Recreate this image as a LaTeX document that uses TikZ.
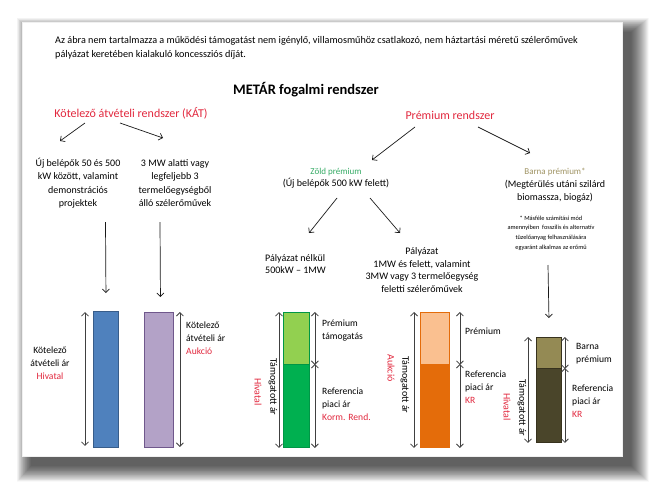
\documentclass[tikz,border=0pt]{standalone}
\usepackage{fontspec}
\setmainfont{Carlito}
\usetikzlibrary{arrows.meta}
\definecolor{kred}{RGB}{226,40,62}
\definecolor{zgreen}{RGB}{52,170,100}
\definecolor{btan}{RGB}{160,148,100}
\definecolor{bblue}{RGB}{79,129,189}
\definecolor{bblueb}{RGB}{56,93,138}
\definecolor{bpurple}{RGB}{179,162,199}
\definecolor{bpurpleb}{RGB}{112,88,140}
\definecolor{glight}{RGB}{146,208,80}
\definecolor{gdark}{RGB}{0,176,80}
\definecolor{gbord}{RGB}{0,150,70}
\definecolor{olight}{RGB}{250,192,144}
\definecolor{odark}{RGB}{228,108,10}
\definecolor{blight}{RGB}{148,138,84}
\definecolor{bdark}{RGB}{74,69,42}
\definecolor{bbord}{RGB}{55,50,30}
\begin{document}
\begin{tikzpicture}[x=1pt,y=-1pt,
  txt/.style={inner sep=0pt, align=center, font=\fontsize{10}{13.5}\selectfont},
  lbl/.style={inner sep=0pt, align=left, font=\fontsize{9.6}{13}\selectfont},
  arr/.style={draw=black!90, line width=0.7pt, -{Straight Barb[length=3.5pt,width=7pt]}},
  dbl/.style={draw=black!75, line width=0.8pt, {Straight Barb[length=3.5pt,width=7pt]}-{Straight Barb[length=3.5pt,width=7pt]}},
  bar/.style={draw, line width=0.9pt, inner sep=0pt, anchor=north west},
  rot/.style={inner sep=0pt, rotate=-90, font=\fontsize{10}{12}\selectfont}]
\useasboundingbox (0,0) rectangle (652,482);
\fill[white] (0,0) rectangle (652,482);
% shadow of the slide
\foreach \i in {0,...,35}{
  \fill[black, opacity=0.023] (31-0.4*\i, 32-0.4*\i) rectangle (631+0.5*\i, 466+0.45*\i);
}
% slide
\node[fill=white, draw=black!6, inner sep=0pt, anchor=north west, minimum width=600pt, minimum height=434pt] (slide) at (22,22) {};

% top note
\node[inner sep=0pt, anchor=west, align=left, font=\fontsize{10.2}{14}\selectfont] (note) at (55,48)
  {Az ábra nem tartalmazza a működési támogatást nem igénylő, villamosműhöz csatlakozó, nem háztartási méretű szélerőművek\\pályázat keretében kialakuló koncessziós díját.};

\node[inner sep=0pt, font=\fontsize{14.5}{16}\selectfont\bfseries] (title) at (306,90) {METÁR fogalmi rendszer};

% KAT branch
\node[inner sep=0pt, font=\fontsize{12}{14}\selectfont, text=kred] (kat) at (131,113) {Kötelező átvételi rendszer (KÁT)};
\node[txt] (uj) at (78,183) {Új belépők 50 és 500\\kW között, valamint\\demonstrációs\\projektek};
\node[txt] (mw3) at (175,183) {3 MW alatti vagy\\legfeljebb 3\\termelőegységből\\álló szélerőművek};
\draw[arr] ([shift={(-46,10)}]kat.center) -- ([shift={(-18,-42)}]uj.center);
\draw[arr] ([shift={(-11,10)}]kat.center) -- ([shift={(-12,-45)}]mw3.center);

% Premium branch
\node[inner sep=0pt, font=\fontsize{12}{14}\selectfont, text=kred] (prem) at (450,115) {Prémium rendszer};
\node[inner sep=0pt, align=center, font=\fontsize{10}{11.5}\selectfont] (zold) at (336,178)
  {\fontsize{9}{11}\selectfont\textcolor{zgreen}{Zöld prémium}\\(Új belépők 500 kW felett)};
\node[inner sep=0pt, align=center, font=\fontsize{10}{13}\selectfont] (barna) at (555,185)
  {\fontsize{9}{11}\selectfont\textcolor{btan}{Barna prémium*}\\(Megtérülés utáni szilárd\\biomassza, biogáz)};
\node[inner sep=0pt, align=center, font=\fontsize{6.3}{9.7}\selectfont] (foot) at (551,233)
  {* Másféle számítási mód\\amennyiben\ \ fosszilis és alternatív\\tüzelőanyag felhasználására\\egyaránt alkalmas az erőmű};
\draw[arr] ([shift={(-35,12)}]prem.center) -- ([shift={(36,-18)}]zold.center);
\draw[arr] ([shift={(28,12)}]prem.center) -- ([shift={(-25,-32)}]barna.center);

\node[inner sep=0pt, anchor=west, align=left, font=\fontsize{10}{12}\selectfont] (pn) at (265,264)
  {Pályázat nélkül\\500kW -- 1MW};
\node[txt, font=\fontsize{10}{12.5}\selectfont] (pz) at (422,270)
  {Pályázat\\1MW és felett, valamint\\3MW vagy 3 termelőegység\\feletti szélerőművek};
\draw[arr] ([shift={(1,20)}]zold.center) -- ([shift={(44,-31)}]pn.west);
\draw[arr] ([shift={(34,20)}]zold.center) -- ([shift={(-22,-37)}]pz.center);

% bars
\node[bar, draw=bblueb, fill=bblue, minimum width=25pt, minimum height=136pt] (blue) at (93,311) {};
\node[bar, draw=bpurpleb, fill=bpurple, minimum width=29pt, minimum height=135pt] (purple) at (144,312) {};
\draw[arr] ([shift={(27.5,39)}]uj.center) -- ([shift={(0,-18)}]blue.north);
\draw[arr] ([shift={(-15,39)}]mw3.center) -- ([shift={(1.5,-15)}]purple.north);
\draw[dbl] ([shift={(-8,1)}]blue.north west) -- ([shift={(-8,-2)}]blue.south west);
\draw[dbl] ([shift={(6,0)}]purple.north east) -- ([shift={(6,-1)}]purple.south east);
\node[lbl, align=center] (l1) at (50,363) {Kötelező\\átvételi ár\\\textcolor{kred}{Hivatal}};
\node[lbl, anchor=west] (l2) at (186,338) {Kötelező\\átvételi ár\\\textcolor{kred}{Aukció}};

% green
\node[bar, draw=gbord, fill=glight, minimum width=26pt, minimum height=52pt] (gtop) at (283,312) {};
\node[bar, draw=gbord, fill=gdark, minimum width=26pt, minimum height=83pt] (gbot) at (283,364) {};
\draw[dbl] ([shift={(-4,0)}]gtop.north west) -- ([shift={(-4,0)}]gbot.south west);
\draw[dbl] ([shift={(5,0)}]gtop.north east) -- ([shift={(5,0)}]gtop.south east);
\draw[dbl] ([shift={(5,0)}]gbot.north east) -- ([shift={(5,0)}]gbot.south east);
\node[rot] (gr1) at (273,387) {Támogatott ár};
\node[rot, text=kred] (gr2) at (258,392) {Hivatal};
\node[lbl, anchor=west] (g1) at (322,331) {Prémium\\támogatás};
\node[lbl, anchor=west] (g2) at (322,404) {Referencia\\piaci ár\\\textcolor{kred}{Korm. Rend.}};

% orange
\node[bar, draw=odark, fill=olight, minimum width=29pt, minimum height=52pt] (otop) at (420,312) {};
\node[bar, draw=odark, fill=odark, minimum width=29pt, minimum height=83pt] (obot) at (420,364) {};
\draw[dbl] ([shift={(-6,0)}]otop.north west) -- ([shift={(-6,0)}]obot.south west);
\draw[dbl] ([shift={(10,0)}]otop.north east) -- ([shift={(10,0)}]otop.south east);
\draw[dbl] ([shift={(10,0)}]obot.north east) -- ([shift={(10,0)}]obot.south east);
\node[rot] (or1) at (405,385) {Támogatott ár};
\node[rot, text=kred] (or2) at (391,368) {Aukció};
\node[lbl, anchor=west] (o1) at (465,331) {Prémium};
\node[lbl, anchor=west] (o2) at (465,387) {Referencia\\piaci ár\\\textcolor{kred}{KR}};

% barna
\node[bar, draw=bbord, fill=blight, minimum width=25pt, minimum height=31pt] (btop) at (536,337) {};
\node[bar, draw=bbord, fill=bdark, minimum width=25pt, minimum height=74pt] (bbot) at (536,368) {};
\draw[arr] ([shift={(-3,32)}]foot.center) -- ([shift={(0,-19)}]btop.north);
\draw[dbl] ([shift={(-8,0)}]btop.north west) -- ([shift={(-8,0)}]bbot.south west);
\draw[dbl] ([shift={(3,0)}]btop.north east) -- ([shift={(3,0)}]btop.south east);
\draw[dbl] ([shift={(3,0)}]bbot.north east) -- ([shift={(3,0)}]bbot.south east);
\node[rot] (br1) at (522,408) {Támogatott ár};
\node[rot, text=kred] (br2) at (507,407) {Hivatal};
\node[lbl, anchor=west] (b1) at (576,354) {Barna\\prémium};
\node[lbl, anchor=west] (b2) at (572,401) {Referencia\\piaci ár\\\textcolor{kred}{KR}};
\end{tikzpicture}
\end{document}
